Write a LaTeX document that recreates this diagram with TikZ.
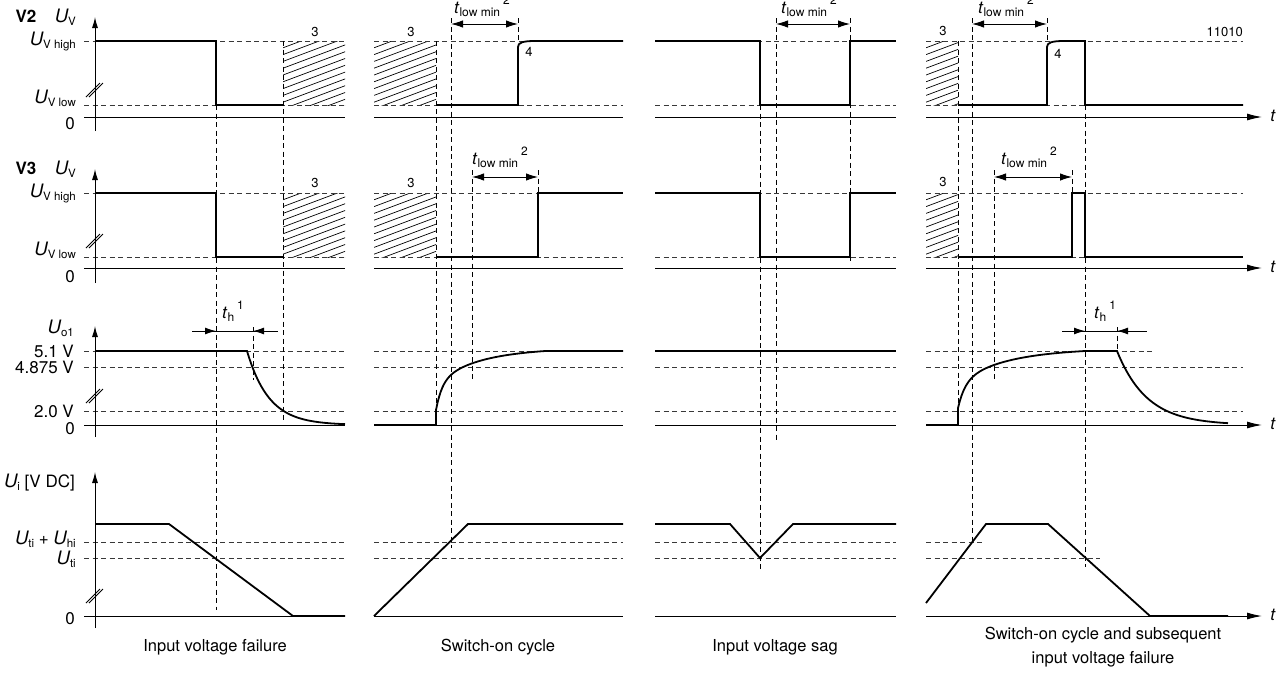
\documentclass[tikz,border=0pt]{standalone}
\usepackage{fontspec}
\setmainfont{TeX Gyre Heros}
\usetikzlibrary{arrows.meta}
\newcommand{\sbx}[1]{\raisebox{-0.35ex}{\fontsize{12}{12}\selectfont #1}}
\newcommand{\usb}[1]{\raisebox{-0.35ex}{\fontsize{11.5}{12}\selectfont #1}}
\newcommand{\spx}[1]{\raisebox{1.0ex}{\fontsize{12}{12}\selectfont #1}}
\newcommand{\Uit}{{\fontsize{18.5}{20}\selectfont\itshape U}}
\begin{document}
\begin{tikzpicture}[x=1pt,y=-1pt,
  sig/.style={line width=1.8pt},
  ax/.style={line width=1pt},
  dsh/.style={line width=0.9pt, dash pattern=on 5pt off 3.5pt},
  hdsh/.style={line width=0.9pt, dash pattern=on 5pt off 3.5pt, black!78},
  hatch/.style={line width=0.7pt},
  lbl/.style={inner sep=0pt, font=\fontsize{17}{20}\selectfont},
  captxt/.style={inner sep=0pt, font=\fontsize{16.5}{24}\selectfont, align=center},
  num/.style={inner sep=0pt, font=\fontsize{13}{15}\selectfont},
  axtip/.style={-{Latex[length=11pt,width=6pt]}},
  ttip/.style={-{Latex[length=15pt,width=7pt]}},
  dim/.style={line width=1pt,{Latex[length=12pt,width=7.5pt]}-{Latex[length=12pt,width=7.5pt]}},
  inarr/.style={line width=1pt,-{Latex[length=11pt,width=7pt]}},
]
\useasboundingbox (0,0) rectangle (1285,681);

% ---------- hatched regions ----------
\foreach \xa/\xb in {283/345,374/436,926/958}{
  \foreach \ya/\yb in {41/105,193/257}{
    \begin{scope}
      \clip (\xa,\ya) rectangle (\xb,\yb);
      \foreach \k in {0,...,15}
        \draw[hatch] (\xa,\ya+\k*6.8) -- ++(80,-30);
    \end{scope}
  }
}

% ---------- horizontal dashed reference lines ----------
\foreach \a/\b in {84/345,374/623,655/896}{
  \foreach \yy in {41,105,193,257,351,367,411,542,558}
    \draw[hdsh] (\a,\yy) -- (\b,\yy);
}
\foreach \yy in {41,105,193,257,367,411}
  \draw[hdsh] (926,\yy) -- (1243,\yy);
\draw[hdsh] (926,351) -- (1155,351);
\draw[hdsh] (926,542) -- (982,542);
\draw[hdsh] (926,558) -- (1100,558);

% ---------- vertical dashed lines ----------
\foreach \x/\a/\b in {216/105/610, 283/41/420, 253/327/380, 436/41/412,
  451/18/548, 518/18/41, 472/170/380, 538/170/193, 760/105/570,
  776/18/440, 850/18/262, 958/41/410, 972/18/543, 994/170/382,
  1047/18/41, 1072/170/193, 1085/105/567, 1117/327/351}
  \draw[dsh] (\x,\a) -- (\x,\b);

% ---------- zero lines / time axes ----------
\foreach \yy in {117,268,425,616}{
  \draw[ax] (84,\yy) -- (345,\yy);
  \draw[ax] (374,\yy) -- (623,\yy);
  \draw[ax] (655,\yy) -- (896,\yy);
  \draw[ax,ttip] (926,\yy) -- (1262,\yy);
}
% vertical axes
\draw[ax,axtip] (95,131) -- (95,17);
\draw[ax,axtip] (95,283) -- (95,169);
\draw[ax,axtip] (95,437) -- (95,326);
\draw[ax,axtip] (95,628) -- (95,472);
% axis breaks
\foreach \yy in {90,241,396,596}{
  \draw[line width=0.8pt] (86,\yy+7) -- (100,\yy-7);
  \draw[line width=0.8pt] (89,\yy+7) -- (103,\yy-7);
}

% ---------- signals ----------
% V2
\draw[sig] (95,41) -- (216,41) -- (216,105) -- (283,105);
\draw[sig] (436,105) -- (518,105) -- (518,47) .. controls (518,42.5) and (523,41) .. (535,41) -- (623,41);
\draw[sig] (655,41) -- (760,41) -- (760,105) -- (850,105) -- (850,41) -- (896,41);
\draw[sig] (958,105) -- (1047,105) -- (1047,47) .. controls (1047,42.5) and (1052,41) .. (1064,41) -- (1085,41) -- (1085,105) -- (1243,105);
% V3
\draw[sig] (95,193) -- (216,193) -- (216,257) -- (283,257);
\draw[sig] (436,257) -- (538,257) -- (538,193) -- (623,193);
\draw[sig] (655,193) -- (760,193) -- (760,257) -- (850,257) -- (850,193) -- (896,193);
\draw[sig] (958,257) -- (1072,257) -- (1072,193) -- (1085,193) -- (1085,257) -- (1243,257);
% Uo1
\draw[sig] (95,351) -- (247,351) -- plot[domain=0:98,samples=50] ({247+\x},{425-74*exp(-\x/22)});
\draw[sig] (374,425) -- (436,425) -- (436,410) -- plot[domain=0:110,samples=70] ({436+\x},{351+27*exp(-\x/6)+32*exp(-\x/40)-2.1*\x/110}) -- (623,351);
\draw[sig] (655,351) -- (896,351);
\draw[sig] (926,425) -- (958,425) -- (958,408) -- plot[domain=0:127,samples=70] ({958+\x},{351+25*exp(-\x/7)+32*exp(-\x/45)-1.9*\x/127}) -- (1117,351) -- plot[domain=0:111,samples=50] ({1117+\x},{425-74*exp(-\x/30)});
% Ui
\draw[sig] (95,524) -- (169,524) -- (293,616) -- (345,616);
\draw[sig] (374,616) -- (468,524) -- (623,524);
\draw[sig] (655,524) -- (730,524) -- (760,558) -- (793,524) -- (896,524);
\draw[sig] (926,603) -- (986,524) -- (1048,524) -- (1150,616) -- (1228,616);

% ---------- dimension arrows ----------
\draw[dim] (451,24) -- (518,24);
\draw[dim] (776,24) -- (850,24);
\draw[dim] (972,24) -- (1047,24);
\draw[dim] (472,177) -- (538,177);
\draw[dim] (994,177) -- (1072,177);
\draw[line width=1pt] (192,331) -- (278,331);
\draw[inarr] (194,331) -- (216,331);
\draw[inarr] (276,331) -- (253,331);
\draw[line width=1pt] (1062,331) -- (1147,331);
\draw[inarr] (1064,331) -- (1085,331);
\draw[inarr] (1145,331) -- (1117,331);

% ---------- dimension labels ----------
\node[lbl,anchor=base west] (tl1) at (454,13.5) {\textit{t}\sbx{low min}\hspace{3pt}\spx{2}};
\node[lbl,anchor=base west] (tl2) at (781,13.5) {\textit{t}\sbx{low min}\hspace{3pt}\spx{2}};
\node[lbl,anchor=base west] (tl3) at (978,13.5) {\textit{t}\sbx{low min}\hspace{3pt}\spx{2}};
\node[lbl,anchor=base west] (tl4) at (472,164) {\textit{t}\sbx{low min}\hspace{3pt}\spx{2}};
\node[lbl,anchor=base west] (tl5) at (1001,164) {\textit{t}\sbx{low min}\hspace{3pt}\spx{2}};
\node[lbl,anchor=base west] (th1) at (222,318) {\textit{t}\sbx{h}\hspace{3pt}\spx{1}};
\node[lbl,anchor=base west] (th2) at (1094,318) {\textit{t}\sbx{h}\hspace{3pt}\spx{1}};

% ---------- note numbers ----------
\node[num] (n3a) at (315,32) {3};
\node[num] (n3b) at (411,32) {3};
\node[num] (n3c) at (943,31) {3};
\node[num] (n3d) at (315,183) {3};
\node[num] (n3e) at (411,183) {3};
\node[num] (n3f) at (943,182) {3};
\node[num] (n4a) at (529,52) {4};
\node[num] (n4b) at (1058,54) {4};
\node[num,anchor=east] (ref) at (1243,32) {11010};

% ---------- left axis labels ----------
\node[lbl,anchor=base] (v2) at (26,22) {\bfseries V2};
\node[lbl,anchor=base east] (uv2) at (76,22) {\Uit\usb{V}};
\node[lbl,anchor=base east] (uvh2) at (76,45) {\Uit\usb{V high}};
\node[lbl,anchor=base east] (uvl2) at (76,103) {\Uit\usb{V low}};
\node[lbl,anchor=base east] (z2) at (75,129) {0};

\node[lbl,anchor=base] (v3) at (26,174) {\bfseries V3};
\node[lbl,anchor=base east] (uv3) at (76,174) {\Uit\usb{V}};
\node[lbl,anchor=base east] (uvh3) at (76,197) {\Uit\usb{V high}};
\node[lbl,anchor=base east] (uvl3) at (76,255) {\Uit\usb{V low}};
\node[lbl,anchor=base east] (z3) at (75,282) {0};

\node[lbl,anchor=base east] (uo) at (74,333) {\Uit\usb{o1}};
\node[lbl,anchor=base east] (l51) at (74,357) {5.1 V};
\node[lbl,anchor=base east] (l4875) at (74,373) {4.875 V};
\node[lbl,anchor=base east] (l20) at (74,417) {2.0 V};
\node[lbl,anchor=base east] (z4) at (75,434) {0};

\node[lbl,anchor=base east] (ui) at (75,487) {\Uit\usb{i} [V DC]};
\node[lbl,anchor=base east] (uth) at (76,544) {\Uit\usb{ti} + \Uit\usb{hi}};
\node[lbl,anchor=base east] (ut) at (76,564) {\Uit\usb{ti}};
\node[lbl,anchor=base east] (z5) at (75,624) {0};

% ---------- t labels ----------
\node[lbl] (t1) at (1273,116) {\textit{t}};
\node[lbl] (t2) at (1273,267) {\textit{t}};
\node[lbl] (t3) at (1273,424) {\textit{t}};
\node[lbl] (t4) at (1273,615) {\textit{t}};

% ---------- captions ----------
\node[captxt] (c1) at (215,647) {Input voltage failure};
\node[captxt] (c2) at (498,647) {Switch-on cycle};
\node[captxt] (c3) at (775,647) {Input voltage sag};
\node[captxt] (c4) at (1103,647) {Switch-on cycle and subsequent\\input voltage failure};
\end{tikzpicture}
\end{document}
